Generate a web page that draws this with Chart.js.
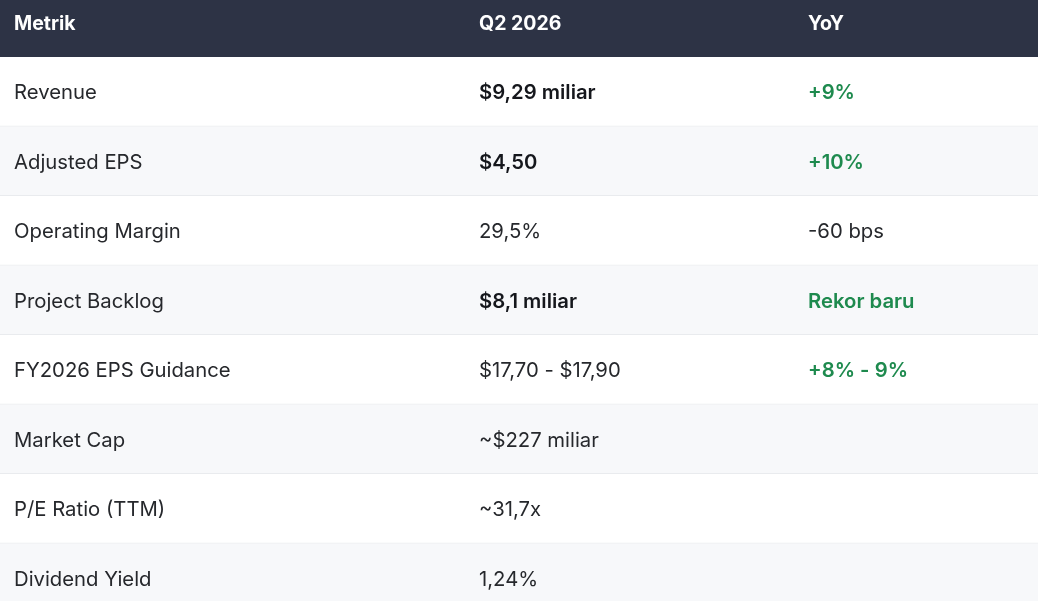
<!DOCTYPE html>
<html>
<head>
<meta charset="utf-8">
<script src="https://cdn.jsdelivr.net/npm/chart.js@4/dist/chart.umd.min.js"></script>
<style>
    html, body { margin: 0; padding: 0; background: #ffffff; overflow: hidden; }
    #wrap { position: relative; width: 1038px; height: 613px; }
</style>
</head>
<body>
<div id="wrap"><canvas id="tableChart"></canvas></div>
<script>
// table data
const headers = ['Metrik', 'Q2 2026', 'YoY'];
const metrics = ['Revenue', 'Adjusted EPS', 'Operating Margin', 'Project Backlog',
    'FY2026 EPS Guidance', 'Market Cap', 'P/E Ratio (TTM)', 'Dividend Yield'];
const q2Values = ['$9,29 miliar', '$4,50', '29,5%', '$8,1 miliar',
    '$17,70 - $17,90', '~$227 miliar', '~31,7x', '1,24%'];
const yoyValues = ['+9%', '+10%', '-60 bps', 'Rekor baru', '+8% - 9%', '', '', ''];

// styling
const boldQ2 = [true, true, false, true, false, false, false, false];
const greenYoy = [true, true, false, true, true, false, false, false];
const colStarts = [0, 465 / 1038, 794 / 1038];
const headerHeight = 57;
const cellPad = 14;
const headerBg = '#2d3345';
const textColor = '#26282c';
const strongColor = '#15171c';
const green = '#1e8a4e';
const bodyFont = '20.3px Inter';

const tablePlugin = {
    id: 'tableText',
    beforeDraw(chart) {
        const { ctx, chartArea, width } = chart;
        ctx.save();
        ctx.fillStyle = headerBg;
        ctx.fillRect(0, 0, width, chartArea.top);
        ctx.restore();
    },
    afterDraw(chart) {
        const { ctx } = chart;
        const x = chart.scales.x;
        const y = chart.scales.y;
        ctx.save();
        ctx.textBaseline = 'middle';
        ctx.textAlign = 'left';

        // header row
        ctx.font = '700 19.5px Inter';
        ctx.fillStyle = '#ffffff';
        headers.forEach((h, c) => {
            ctx.fillText(h, x.getPixelForValue(colStarts[c]) + cellPad, 24.5);
        });

        // body rows
        metrics.forEach((m, i) => {
            const py = y.getPixelForValue(i) + 1.5;
            ctx.font = '400 ' + bodyFont;
            ctx.fillStyle = textColor;
            ctx.fillText(m, x.getPixelForValue(colStarts[0]) + cellPad, py);

            ctx.font = (boldQ2[i] ? '600 ' : '400 ') + bodyFont;
            ctx.fillStyle = boldQ2[i] ? strongColor : textColor;
            ctx.fillText(q2Values[i], x.getPixelForValue(colStarts[1]) + cellPad, py);

            ctx.font = (greenYoy[i] ? '600 ' : '400 ') + bodyFont;
            ctx.fillStyle = greenYoy[i] ? green : textColor;
            ctx.fillText(yoyValues[i], x.getPixelForValue(colStarts[2]) + cellPad, py);
        });
        ctx.restore();
    }
};

const ctx = document.getElementById('tableChart').getContext('2d');
const tableChart = new Chart(ctx, {
    type: 'bar',
    data: {
        labels: metrics,
        datasets: [{
            data: metrics.map(() => [0, 1]),
            backgroundColor: metrics.map((_, i) => i % 2 === 0 ? '#ffffff' : '#f7f8fa'),
            borderColor: '#e5e7ea',
            borderWidth: { top: 0, left: 0, right: 0, bottom: 1 },
            borderSkipped: false,
            barPercentage: 1,
            categoryPercentage: 1
        }]
    },
    options: {
        indexAxis: 'y',
        responsive: true,
        maintainAspectRatio: false,
        animation: false,
        layout: { padding: { top: headerHeight, left: 0, right: 0, bottom: 0 } },
        plugins: {
            legend: { display: false },
            tooltip: { enabled: false }
        },
        scales: {
            x: { display: false, min: 0, max: 1 },
            y: { display: false, offset: true }
        }
    },
    plugins: [tablePlugin]
});
</script>
</body>
</html>
